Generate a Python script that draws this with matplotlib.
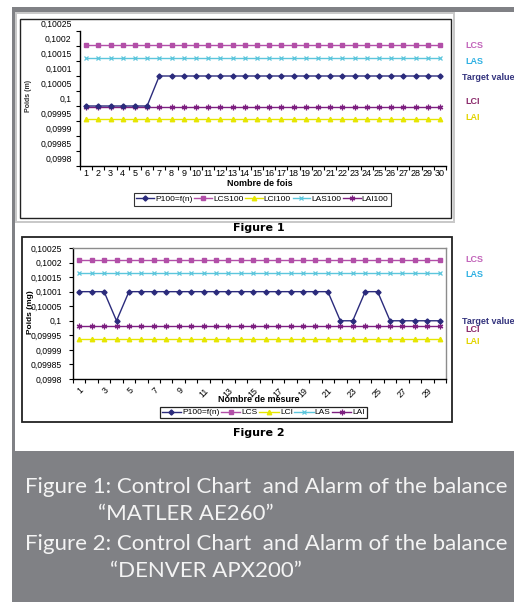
"""Control charts of two balances (MATLER AE260 / DENVER APX200) with alarm limits."""

import matplotlib
matplotlib.use("Agg")
import matplotlib.pyplot as plt
from matplotlib.patches import Rectangle
from matplotlib.transforms import ScaledTranslation

W, H = 514, 604

runs = list(range(1, 31))
y_ticks = [0.0998, 0.09985, 0.0999, 0.09995, 0.1, 0.10005, 0.1001, 0.10015, 0.1002, 0.10025]
y_tick_labels = ["0,0998", "0,09985", "0,0999", "0,09995", "0,1", "0,10005",
                 "0,1001", "0,10015", "0,1002", "0,10025"]

# Figure 1 : MATLER AE260
p100_a = [0.1] * 6 + [0.1001] * 24
lcs_a = [0.100204] * 30
lci_a = [0.099958] * 30
las_a = [0.100161] * 30
lai_a = [0.099997] * 30
legend_a = ["P100=f(n)", "LCS100", "LCI100", "LAS100", "LAI100"]

# Figure 2 : DENVER APX200
p100_b = ([0.1001, 0.1001, 0.1001, 0.1] + [0.1001] * 17 + [0.1, 0.1]
          + [0.1001, 0.1001] + [0.1] * 5)
lcs_b = [0.100209] * 30
lci_b = [0.099939] * 30
las_b = [0.100165] * 30
lai_b = [0.099982] * 30
legend_b = ["P100=f(n)", "LCS", "LCI", "LAS", "LAI"]

caption = ["Figure 1: Control Chart  and Alarm of the balance",
           "\u201cMATLER AE260\u201d",
           "Figure 2: Control Chart  and Alarm of the balance",
           "\u201cDENVER APX200\u201d"]

C_P = "#2b2b7c"
C_LCS = "#b24fa8"
C_LCI = "#e6e600"
C_LAS = "#5cc6dc"
C_LAI = "#7d1f80"
GRAY = "#808185"

plt.rcParams["font.family"] = ["Liberation Sans", "DejaVu Sans"]

fig = plt.figure(figsize=(W / 100, H / 100), dpi=100)


def px_axes(x0, y0, x1, y1):
    return fig.add_axes([x0 / W, 1 - y1 / H, (x1 - x0) / W, (y1 - y0) / H])


def rect(x0, y0, x1, y1, **kw):
    fig.add_artist(Rectangle((x0 / W, 1 - y1 / H), (x1 - x0) / W, (y1 - y0) / H,
                             transform=fig.transFigure, zorder=-5, **kw))


def ftext(x, y, s, **kw):
    return fig.text(x / W, 1 - y / H, s, **kw)


# frames
rect(12, 7, 514, 12, fc=GRAY, ec="none")
rect(12, 7, 15, 602, fc=GRAY, ec="none")
rect(15, 12, 455, 223, fc="#c9c9c9", ec="none")
rect(17, 14, 453, 221, fc="white", ec="none")
rect(20, 19, 451, 218, fc="white", ec="#222222", lw=1.0)
rect(22, 237, 452, 422, fc="white", ec="#222222", lw=1.3)
rect(12, 451, 514, 602, fc=GRAY, ec="none")


def draw_series(ax, p, lcs, lci, las, lai, labels):
    ax.plot(runs, p, color=C_P, marker="D", ms=2.6, lw=1.0, label=labels[0], zorder=5)
    ax.plot(runs, lcs, color=C_LCS, marker="s", ms=3.0, lw=1.0, label=labels[1])
    ax.plot(runs, lci, color=C_LCI, marker="^", ms=3.2, lw=1.0, label=labels[2])
    ax.plot(runs, las, color=C_LAS, marker="x", ms=3.2, mew=0.9, lw=1.0, label=labels[3])
    ax.plot(runs, lai, color=C_LAI, marker=(6, 2, 0), ms=4.0, mew=0.9, lw=1.0, label=labels[4])


def style_axes(ax):
    ax.set_xlim(0.5, 30.5)
    ax.set_ylim(0.0998, 0.10025)
    ax.set_yticks(y_ticks)
    ax.set_yticklabels(y_tick_labels)
    ax.set_xticks([r + 0.5 for r in [0] + runs], minor=True)
    ax.tick_params(axis="x", which="major", length=0)
    ax.tick_params(axis="x", which="minor", length=3, width=0.8, direction="out")
    ax.tick_params(axis="y", length=3, width=0.8, direction="out", labelsize=6.2, pad=3)
    ax.set_facecolor("none")


# ---- Figure 1
ax1 = px_axes(80, 31, 446, 166)
draw_series(ax1, p100_a, lcs_a, lci_a, las_a, lai_a, legend_a)
style_axes(ax1)
ax1.set_xticks(runs)
ax1.set_xticklabels([str(r) for r in runs])
ax1.tick_params(axis="x", which="major", labelsize=6.5, pad=2)
for s in ("top", "right"):
    ax1.spines[s].set_visible(False)
for s in ("left", "bottom"):
    ax1.spines[s].set_linewidth(1.0)
shift = ScaledTranslation(0, 0.075, fig.dpi_scale_trans)
for lab in ax1.get_yticklabels():
    lab.set_transform(lab.get_transform() + shift)

ftext(28, 96, "Poids (m)", rotation=90, fontsize=5, fontweight="bold",
      ha="center", va="center", color="#333333")
ftext(260, 183, "Nombre de fois", fontsize=6.5, fontweight="bold", ha="center", va="center")
leg1 = ax1.legend(loc="center", bbox_to_anchor=(262.5 / W, 1 - 199.5 / H),
                  bbox_transform=fig.transFigure, ncol=5, fontsize=6, frameon=True,
                  fancybox=False, edgecolor="#333333", framealpha=1, borderpad=0.35,
                  handlelength=2.1, handletextpad=0.15, columnspacing=0.2, borderaxespad=0)
leg1.get_frame().set_linewidth(0.8)

ftext(465, 46, "LCS", color="#c264ba", fontsize=6.5, fontweight="bold", va="center")
ftext(465, 62, "LAS", color="#2fb0e2", fontsize=6.5, fontweight="bold", va="center")
ftext(462, 78, "Target value", color="#34347e", fontsize=6.5, fontweight="bold", va="center")
ftext(465, 101, "LCI", color="#8c2b6c", fontsize=6.5, fontweight="bold", va="center")
ftext(465, 117, "LAI", color="#e2d400", fontsize=6.5, fontweight="bold", va="center")

ftext(259, 228, "Figure 1", family="DejaVu Sans", fontsize=8, fontweight="bold",
      ha="center", va="center")

# ---- Figure 2
ax2 = px_axes(73, 248, 446, 379)
draw_series(ax2, p100_b, lcs_b, lci_b, las_b, lai_b, legend_b)
style_axes(ax2)
odd = runs[::2]
ax2.set_xticks(odd)
ax2.set_xticklabels([str(r) for r in odd], rotation=45, ha="right",
                    rotation_mode="anchor")
ax2.tick_params(axis="x", which="major", labelsize=6.3, pad=5)
ax2.tick_params(axis="y", pad=5)
for s in ("top", "right"):
    ax2.spines[s].set_color("#8c8c8c")
    ax2.spines[s].set_linewidth(1.0)
for s in ("left", "bottom"):
    ax2.spines[s].set_linewidth(1.0)

ftext(30, 312, "Poids (mg)", rotation=90, fontsize=6, fontweight="bold",
      ha="center", va="center")
ftext(259, 399, "Nombre de mesure", fontsize=6.5, fontweight="bold", ha="center", va="center")
leg2 = ax2.legend(loc="center", bbox_to_anchor=(263.5 / W, 1 - 412.5 / H),
                  bbox_transform=fig.transFigure, ncol=5, fontsize=6, frameon=True,
                  fancybox=False, edgecolor="#222222", framealpha=1, borderpad=0.2,
                  handlelength=2.3, handletextpad=0.15, columnspacing=0.2, borderaxespad=0)
leg2.get_frame().set_linewidth(0.9)

ftext(465, 259, "LCS", color="#c264ba", fontsize=6.5, fontweight="bold", va="center")
ftext(465, 275, "LAS", color="#2fb0e2", fontsize=6.5, fontweight="bold", va="center")
ftext(462, 322, "Target value", color="#34347e", fontsize=6.5, fontweight="bold", va="center")
ftext(465, 330, "LCI", color="#8c2b6c", fontsize=6.5, fontweight="bold", va="center")
ftext(465, 341, "LAI", color="#e2d400", fontsize=6.5, fontweight="bold", va="center")

ftext(259, 433, "Figure 2", family="DejaVu Sans", fontsize=8, fontweight="bold",
      ha="center", va="center")

# ---- caption
cap_pos = [(25, 487), (98, 514), (25, 544), (110, 571)]
cap_texts = [ftext(x, y, s, family="Lato", fontsize=16, color="#f4f4f4",
                   ha="left", va="center") for (x, y), s in zip(cap_pos, caption)]
renderer = fig.canvas.get_renderer()
width = cap_texts[0].get_window_extent(renderer).width
size = 16 * 483 / width
for t in cap_texts:
    t.set_fontsize(size)

fig.savefig("out.png", dpi=100)
plt.close(fig)
